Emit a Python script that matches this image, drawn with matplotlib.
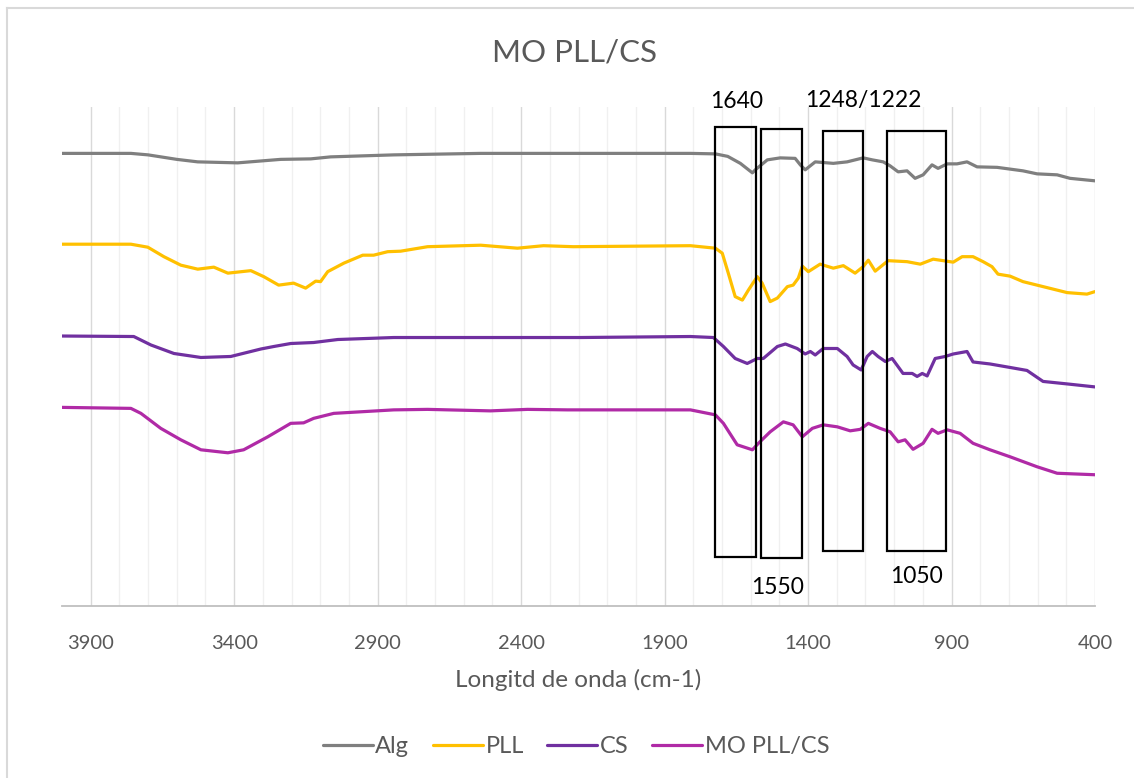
import matplotlib
matplotlib.use("Agg")
import matplotlib.pyplot as plt
from matplotlib.patches import Rectangle
from matplotlib.lines import Line2D
import numpy as np

plt.rcParams['font.family'] = ['Lato', 'DejaVu Sans']

# Espectros FTIR (transmitancia relativa, eje Y oculto)
alg_x = [4000, 3760, 3700, 3600, 3527, 3388, 3238, 3133, 3064, 2844, 2541, 2193, 1810, 1723,
         1680, 1636, 1594, 1584, 1542, 1497, 1445, 1427, 1410, 1375, 1312, 1264, 1208, 1176,
         1138, 1114, 1086, 1055, 1027, 999, 968, 947, 915, 881, 846, 811, 741, 651, 602, 532,
         487, 400]
alg_y = [90.7, 90.7, 90.4, 89.5, 89.0, 88.8, 89.5, 89.6, 90.0, 90.4, 90.7, 90.7, 90.7, 90.6,
         90.1, 88.7, 86.8, 87.4, 89.4, 89.8, 89.7, 88.4, 87.4, 89.0, 88.7, 89.0, 89.8, 89.4,
         89.0, 88.2, 87.0, 87.2, 85.7, 86.4, 88.4, 87.7, 88.6, 88.6, 89.0, 88.0, 87.9, 87.2,
         86.6, 86.4, 85.7, 85.2]

pll_x = [4000, 3760, 3701, 3645, 3586, 3527, 3471, 3422, 3342, 3297, 3245, 3193, 3151, 3116,
         3099, 3074, 3018, 2952, 2914, 2865, 2820, 2726, 2541, 2413, 2322, 2218, 1810, 1723,
         1699, 1678, 1654, 1629, 1608, 1577, 1560, 1532, 1507, 1472, 1452, 1434, 1420, 1399,
         1358, 1312, 1277, 1236, 1208, 1190, 1166, 1121, 1055, 1009, 964, 894, 863, 825, 790,
         759, 738, 696, 651, 581, 497, 428, 400]
pll_y = [72.5, 72.5, 71.9, 70.0, 68.3, 67.5, 67.9, 66.7, 67.2, 66.0, 64.3, 64.7, 63.7, 65.1,
         65.0, 67.0, 68.7, 70.3, 70.3, 71.0, 71.1, 72.0, 72.3, 71.7, 72.2, 72.0, 72.2, 71.7,
         70.7, 66.7, 62.0, 61.3, 63.3, 66.0, 64.7, 61.0, 61.7, 64.0, 64.3, 65.7, 68.1, 67.0,
         68.5, 67.7, 68.2, 66.7, 68.0, 69.3, 67.1, 69.2, 69.0, 68.5, 69.5, 68.9, 70.0, 70.0, 69.0,
         68.0, 66.5, 66.1, 65.0, 64.0, 62.8, 62.5, 63.0]

cs_x = [4000, 3750, 3690, 3610, 3516, 3412, 3307, 3262, 3203, 3123, 3039, 2844, 2496, 2193,
        1810, 1730, 1695, 1654, 1612, 1577, 1556, 1507, 1479, 1438, 1410, 1392, 1375, 1347,
        1298, 1264, 1243, 1215, 1194, 1176, 1156, 1131, 1107, 1069, 1037, 1020, 1002, 985,
        957, 922, 894, 846, 825, 766, 696, 637, 581, 497, 400]
cs_y = [54.1, 54.0, 52.3, 50.6, 49.8, 50.0, 51.5, 52.0, 52.6, 52.8, 53.4, 53.8, 53.8, 53.8,
        54.0, 53.8, 52.0, 49.6, 48.6, 49.6, 49.6, 52.0, 52.5, 51.6, 50.5, 51.0, 50.3, 51.6,
        51.6, 50.0, 48.3, 47.3, 50.0, 51.0, 50.0, 49.0, 49.6, 46.6, 46.6, 46.0, 46.6, 46.1,
        49.6, 50.0, 50.5, 51.0, 48.9, 48.5, 47.8, 47.2, 45.0, 44.5, 43.9]

mo_x = [4000, 3760, 3725, 3656, 3586, 3516, 3422, 3367, 3283, 3203, 3158, 3123, 3053, 2844,
        2726, 2507, 2378, 2238, 1810, 1723, 1695, 1647, 1594, 1573, 1532, 1486, 1452, 1420,
        1385, 1347, 1298, 1253, 1218, 1190, 1149, 1114, 1086, 1062, 1034, 999, 968, 947, 915,
        870, 825, 766, 696, 602, 532, 400]
mo_y = [39.8, 39.6, 38.6, 35.6, 33.3, 31.3, 30.7, 31.3, 33.9, 36.6, 36.7, 37.6, 38.6, 39.3,
        39.4, 39.1, 39.4, 39.3, 39.3, 38.3, 36.6, 32.3, 31.3, 32.6, 34.9, 36.9, 36.3, 33.9,
        35.6, 36.3, 35.9, 35.1, 35.4, 36.6, 35.6, 34.9, 32.9, 33.3, 31.4, 32.6, 35.4, 34.6, 35.3,
        34.6, 32.6, 31.3, 29.9, 27.9, 26.6, 26.3]

series = ['Alg', 'PLL', 'CS', 'MO PLL/CS']
colors = ['#7F7F7F', '#FFC000', '#7030A0', '#B02AA6']

# Recuadros de las bandas (x1, x2, y_abajo, y_arriba)
boxes = [(1724, 1581, 9.8, 96.0), (1564, 1421, 9.6, 95.6),
         (1348, 1208, 11.0, 95.2), (1125, 919, 11.0, 95.2)]
band_labels = ['1640', '1248/1222', '1550', '1050']
band_pos = [(1650, 101.0), (1208, 101.2), (1507, 3.8), (1023, 6.0)]

fig = plt.figure(figsize=(11.34, 7.78), dpi=100)
# borde del área del gráfico (sólo visible arriba e izquierda)
fig.add_artist(Line2D([0.0065, 1.0], [0.9897, 0.9897], transform=fig.transFigure,
                      color='#D9D9D9', lw=1.5))
fig.add_artist(Line2D([0.0065, 0.0065], [0.0, 0.9897], transform=fig.transFigure,
                      color='#D9D9D9', lw=1.5))

ax = fig.add_axes([0.0547, 0.2211, 0.9109, 0.6414])

for xs, ys, lab, c in zip([alg_x, pll_x, cs_x, mo_x], [alg_y, pll_y, cs_y, mo_y], series, colors):
    ax.plot(xs, ys, color=c, lw=2.3, label=lab, solid_capstyle='round', solid_joinstyle='round')

for (x1, x2, y1, y2) in boxes:
    ax.add_patch(Rectangle((x2, y1), x1 - x2, y2 - y1, fill=False, edgecolor='black',
                           linewidth=1.6, zorder=5, clip_on=False))
for t, (x, y) in zip(band_labels, band_pos):
    ax.text(x, y, t, ha='center', va='center', fontsize=16.5, color='black', clip_on=False)

ax.set_xlim(4000, 400)
ax.set_ylim(0, 100)
ax.set_xticks(np.arange(400, 4000, 500))
ax.set_xticks(np.arange(400, 4000, 100), minor=True)
ax.grid(which='major', axis='x', color='#D9D9D9', lw=1)
ax.grid(which='minor', axis='x', color='#F0F0F0', lw=1)
ax.set_yticks([])
ax.tick_params(axis='x', which='both', length=0, labelsize=14.5, labelcolor='#595959', pad=21)
for s in ['top', 'right', 'left']:
    ax.spines[s].set_visible(False)
ax.spines['bottom'].set_color('#BFBFBF')
ax.spines['bottom'].set_linewidth(1.3)
ax.set_axisbelow(True)

ax.set_xlabel('Longitd de onda (cm-1)', fontsize=17.5, color='#595959', labelpad=12)
fig.text(0.507, 0.933, 'MO PLL/CS', ha='center', va='center', fontsize=22.5, color='#595959')

fig.legend(loc='center', bbox_to_anchor=(0.508, 0.04), ncol=4, frameon=False,
           fontsize=17, handlelength=2.1, handletextpad=0.12, columnspacing=1.0,
           labelcolor='#595959')

fig.savefig('out.png', dpi=100)
